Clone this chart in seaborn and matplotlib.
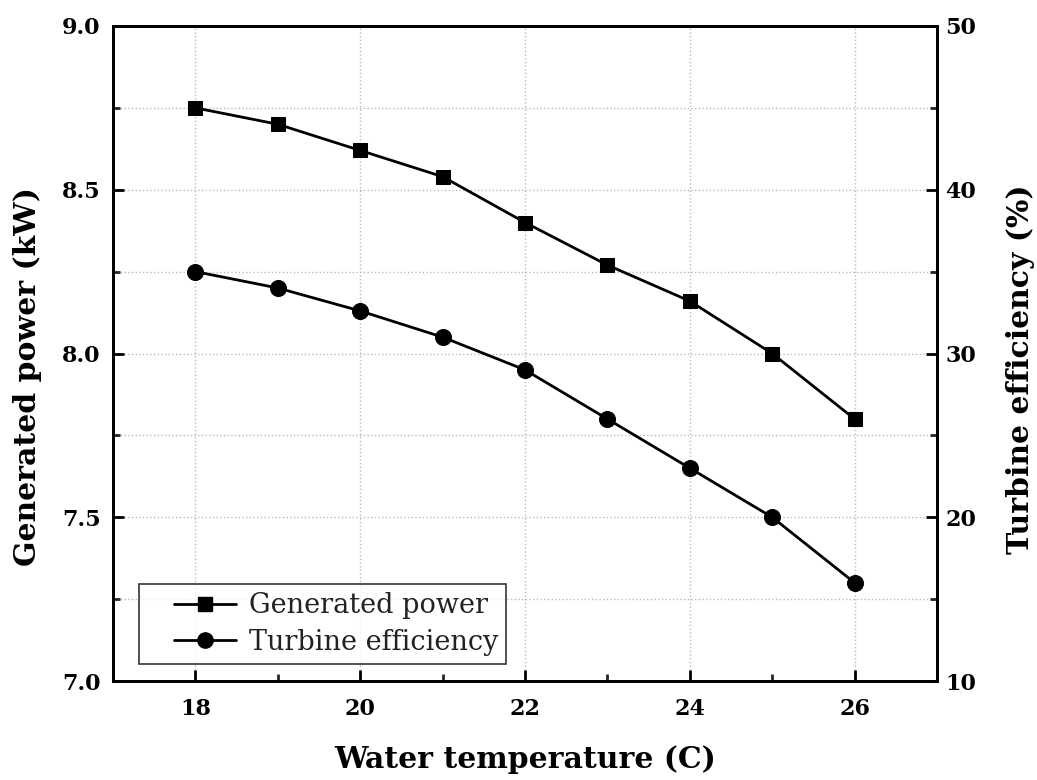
import numpy as np
import pandas as pd
import matplotlib
matplotlib.use("Agg")
import matplotlib.pyplot as plt
import seaborn as sns
from matplotlib.ticker import MultipleLocator
from matplotlib.lines import Line2D
from matplotlib.legend_handler import HandlerLine2D

temperature = [18, 19, 20, 21, 22, 23, 24, 25, 26]
generated_power = [8.75, 8.70, 8.62, 8.54, 8.40, 8.27, 8.16, 8.00, 7.80]
turbine_efficiency = [35.0, 34.0, 32.6, 31.0, 29.0, 26.0, 23.0, 20.0, 16.0]

sns.set_theme(style="white")
plt.rcParams['font.family'] = ['DejaVu Serif']
plt.rcParams['text.color'] = 'black'
plt.rcParams['axes.labelcolor'] = 'black'

df = pd.DataFrame({"T": temperature, "P": generated_power, "E": turbine_efficiency})

fig = plt.figure(figsize=(10.37, 7.8), dpi=100)
ax = fig.add_axes([113/1037, 1-681/780, (937-113)/1037, (681-26)/780])
ax2 = ax.twinx()

sns.lineplot(data=df, x="T", y="P", ax=ax, color="black", marker="s", markersize=10.5,
             linewidth=2, markeredgecolor="black")
sns.lineplot(data=df, x="T", y="E", ax=ax2, color="black", marker="o", markersize=11.5,
             linewidth=2, markeredgecolor="black")

ax.set_xlim(17, 27)
ax.set_ylim(7.0, 9.0)
ax2.set_ylim(10, 50)
ax.xaxis.set_major_locator(MultipleLocator(2))
ax.xaxis.set_minor_locator(MultipleLocator(1))
ax.yaxis.set_major_locator(MultipleLocator(0.5))
ax.yaxis.set_minor_locator(MultipleLocator(0.25))
ax2.yaxis.set_major_locator(MultipleLocator(10))
ax2.yaxis.set_minor_locator(MultipleLocator(5))

ax.grid(True, which="major", axis="x", color="#bbbbbb", linestyle=":", linewidth=1)
ax.grid(True, which="both", axis="y", color="#bbbbbb", linestyle=":", linewidth=1)

for a in (ax, ax2):
    for s in a.spines.values():
        s.set_color("black")
        s.set_linewidth(2)

ax.tick_params(axis="both", which="major", direction="in", length=8, width=2,
               labelsize=16, colors="black")
ax.tick_params(axis="x", which="major", pad=12)
ax.tick_params(axis="y", which="major", pad=9)
ax.tick_params(axis="both", which="minor", direction="in", length=5, width=2)
ax.tick_params(axis="x", which="both", bottom=True, top=False)
ax.tick_params(axis="y", which="both", left=True, right=False)
ax2.tick_params(axis="y", which="major", direction="in", length=8, width=2,
                labelsize=16, colors="black", pad=6, right=True)
ax2.tick_params(axis="y", which="minor", direction="in", length=5, width=2, right=True)

ax.yaxis.set_major_formatter(matplotlib.ticker.FormatStrFormatter("%.1f"))
for lab in ax.get_xticklabels() + ax.get_yticklabels() + ax2.get_yticklabels():
    lab.set_fontweight("bold")

ax.set_xlabel("Water temperature (C)", fontsize=21.5, fontweight="bold", labelpad=18)
ax.set_ylabel("Generated power (kW)", fontsize=21.5, fontweight="bold")
ax2.set_ylabel("Turbine efficiency (%)", fontsize=21.5, fontweight="bold")
ax.yaxis.set_label_coords((42 - 113) / 824, (681 - 377) / 655)
ax2.yaxis.set_label_coords((1006 - 113) / 824, (681 - 369) / 655)


class OffsetLineHandler(HandlerLine2D):
    def create_artists(self, legend, orig_handle, xdescent, ydescent, width, height,
                       fontsize, trans):
        artists = super().create_artists(legend, orig_handle, xdescent, ydescent,
                                         width, height, fontsize, trans)
        left, right = 19.0, 6.0
        for a in artists:
            xd = np.asarray(a.get_xdata(), dtype=float)
            x0 = -xdescent
            a.set_xdata(x0 + left + (xd - x0) * (width - left - right) / width)
        return artists


handles = [Line2D([], [], color="black", marker="s", markersize=10, linewidth=2),
           Line2D([], [], color="black", marker="o", markersize=11, linewidth=2)]
leg = ax.legend(handles, ["Generated power", "Turbine efficiency"], loc="lower left",
                bbox_to_anchor=(0.025, 0.018), fontsize=19.5, frameon=True, fancybox=False,
                edgecolor="black", handlelength=3.6, handletextpad=0.15, borderpad=0.3,
                labelspacing=0.35, numpoints=1, borderaxespad=0.2,
                handler_map={Line2D: OffsetLineHandler()})
leg.get_frame().set_linewidth(1.2)
for t in leg.get_texts():
    t.set_color("#222222")
if ax2.get_legend():
    ax2.get_legend().remove()

fig.savefig("out.png", dpi=100)
